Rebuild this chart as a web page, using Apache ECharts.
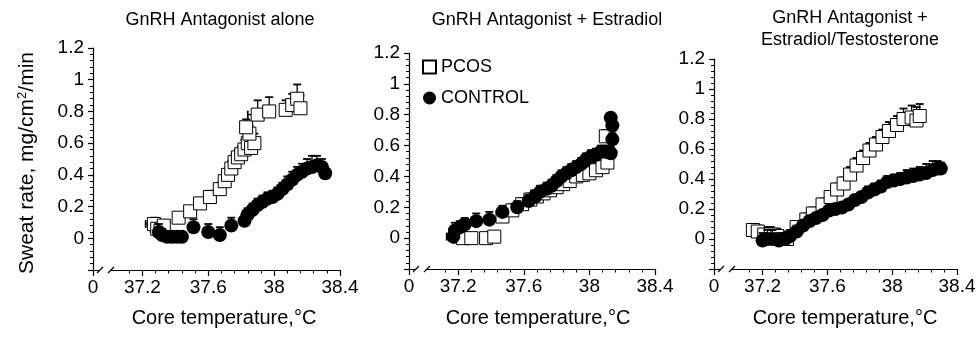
<!DOCTYPE html>
<html><head><meta charset="utf-8">
<script src="https://cdn.jsdelivr.net/npm/echarts@6/dist/echarts.min.js"></script>
<style>html,body{margin:0;padding:0;background:#fff}#c{width:979px;height:339px}</style>
</head><body><div id="c"></div>
<script>
// ---------- data ----------
const panelTitles = ['GnRH Antagonist alone', 'GnRH Antagonist + Estradiol', 'GnRH Antagonist +\nEstradiol/Testosterone'];
const seriesNames = ['PCOS', 'CONTROL'];
const xMajorTicks = [36.9, 37.2, 37.6, 38, 38.4];
const xTickLabels = ['0', '37.2', '37.6', '38', '38.4'];
const xMinorTicks = [37.12, 37.28, 37.36, 37.44, 37.52, 37.68, 37.76, 37.84, 37.92, 38.08, 38.16, 38.24, 38.32];
const xLabel = 'Core temperature,°C';
const yLabel = 'Sweat rate, mg/cm{sup|2}/min';
// [core temp, sweat rate, temp SE (left), rate SE (up)]
const alonePCOS = [
  [37.27,0.09,0.05,0.04],[37.29,0.06,0.04,0.03],[37.31,0.05,0.03,0.03],[37.33,0.08,0.03,0.03],
  [37.42,0.13,0.02,0.03],[37.49,0.17,0.03,0.03],[37.55,0.22,0.03,0.03],[37.61,0.26,0.03,0.04],
  [37.67,0.31,0.03,0.04],[37.70,0.36,0.02,0.04],[37.72,0.40,0.02,0.04],[37.74,0.44,0.02,0.05],
  [37.76,0.48,0.03,0.05],[37.78,0.51,0.03,0.05],[37.80,0.53,0.03,0.05],[37.82,0.56,0.03,0.06],
  [37.84,0.60,0.03,0.06],[37.86,0.57,0.02,0.06],[37.88,0.60,0.03,0.06],[37.85,0.66,0.03,0.05],
  [37.83,0.70,0.02,0.05],[37.90,0.78,0.06,0.09],[37.97,0.80,0.02,0.09],[38.07,0.81,0.02,0.06],
  [38.11,0.84,0.03,0.07],[38.14,0.88,0.02,0.09],[38.16,0.82,0.02,0.08]
];
const aloneCTRL = [
  [37.30,0.04,0.03,0.05],[37.32,0.02,0.02,0.04],[37.35,0.01,0.02,0.03],[37.38,0.01,0.02,0.03],
  [37.41,0.01,0.02,0.03],[37.44,0.01,0.02,0.03],[37.51,0.07,0.02,0.05],[37.60,0.04,0.02,0.05],
  [37.67,0.02,0.03,0.05],[37.74,0.08,0.03,0.05],[37.82,0.11,0.02,0.04],[37.84,0.15,0.03,0.04],
  [37.87,0.18,0.03,0.04],[37.90,0.21,0.03,0.04],[37.93,0.23,0.03,0.04],[37.96,0.25,0.03,0.04],
  [37.99,0.26,0.03,0.04],[38.02,0.28,0.03,0.04],[38.05,0.31,0.03,0.04],[38.08,0.34,0.03,0.05],
  [38.11,0.37,0.03,0.05],[38.14,0.40,0.03,0.05],[38.17,0.42,0.03,0.05],[38.20,0.44,0.03,0.06],
  [38.23,0.45,0.03,0.07],[38.26,0.46,0.02,0.06],[38.29,0.45,0.02,0.05],[38.31,0.41,0.02,0.04]
];
const estPCOS = [
  [37.20,0.01,0.02,0.03],[37.23,0.00,0.02,0.03],[37.28,0.00,0.02,0.03],[37.37,0.00,0.02,0.03],
  [37.42,0.01,0.02,0.03],[37.47,0.14,0.02,0.04],[37.53,0.18,0.02,0.04],[37.59,0.22,0.03,0.04],
  [37.64,0.25,0.03,0.04],[37.68,0.27,0.03,0.04],[37.72,0.29,0.03,0.05],[37.76,0.31,0.03,0.05],
  [37.80,0.33,0.03,0.05],[37.84,0.35,0.03,0.05],[37.88,0.37,0.03,0.05],[37.92,0.40,0.03,0.05],
  [37.96,0.41,0.03,0.05],[38.00,0.42,0.03,0.05],[38.04,0.44,0.03,0.05],[38.08,0.46,0.03,0.05],
  [38.11,0.49,0.03,0.05],[38.10,0.66,0.03,0.04]
];
const estCTRL = [
  [37.17,0.01,0.04,0.03],[37.18,0.05,0.02,0.05],[37.21,0.07,0.02,0.04],[37.24,0.09,0.02,0.04],
  [37.31,0.11,0.02,0.05],[37.39,0.12,0.02,0.05],[37.47,0.17,0.02,0.04],[37.56,0.20,0.02,0.04],
  [37.63,0.24,0.02,0.04],[37.67,0.27,0.02,0.04],[37.70,0.30,0.02,0.04],[37.74,0.32,0.02,0.04],
  [37.77,0.34,0.02,0.04],[37.80,0.37,0.02,0.04],[37.83,0.40,0.02,0.04],[37.86,0.42,0.02,0.04],
  [37.89,0.44,0.02,0.04],[37.92,0.46,0.02,0.04],[37.95,0.48,0.02,0.04],[37.98,0.51,0.02,0.04],
  [38.01,0.53,0.02,0.04],[38.04,0.54,0.02,0.04],[38.07,0.56,0.02,0.04],[38.10,0.56,0.02,0.04],
  [38.13,0.55,0.02,0.04],[38.14,0.64,0.02,0.04],[38.14,0.73,0.02,0.04],[38.13,0.78,0.02,0.03]
];
const estTestPCOS = [
  [37.14,0.06,0.02,0.04],[37.17,0.05,0.02,0.04],[37.21,0.03,0.02,0.05],[37.25,0.03,0.02,0.05],
  [37.29,0.02,0.02,0.05],[37.35,0.00,0.02,0.05],[37.41,0.08,0.02,0.04],[37.47,0.13,0.02,0.04],
  [37.51,0.17,0.02,0.04],[37.57,0.23,0.02,0.04],[37.62,0.28,0.03,0.04],[37.66,0.33,0.03,0.04],
  [37.70,0.37,0.03,0.04],[37.74,0.43,0.03,0.05],[37.78,0.49,0.03,0.05],[37.82,0.54,0.03,0.05],
  [37.86,0.59,0.03,0.05],[37.90,0.63,0.03,0.05],[37.94,0.68,0.03,0.05],[37.98,0.72,0.03,0.06],
  [38.03,0.76,0.03,0.06],[38.07,0.80,0.03,0.07],[38.12,0.81,0.03,0.08],[38.15,0.79,0.03,0.09],
  [38.17,0.82,0.03,0.08]
];
const estTestCTRL = [
  [37.20,-0.01,0.02,0.05],[37.23,0.00,0.02,0.06],[37.26,0.00,0.02,0.06],[37.30,-0.01,0.02,0.05],
  [37.34,0.00,0.02,0.04],[37.37,0.02,0.02,0.04],[37.41,0.05,0.02,0.04],[37.45,0.09,0.02,0.03],
  [37.49,0.12,0.02,0.03],[37.53,0.14,0.02,0.03],[37.57,0.16,0.02,0.03],[37.61,0.19,0.02,0.03],
  [37.65,0.20,0.02,0.03],[37.69,0.21,0.02,0.03],[37.73,0.23,0.02,0.03],[37.77,0.26,0.02,0.03],
  [37.81,0.28,0.02,0.03],[37.85,0.31,0.02,0.04],[37.89,0.33,0.02,0.04],[37.93,0.35,0.02,0.04],
  [37.97,0.38,0.02,0.04],[38.01,0.39,0.02,0.04],[38.05,0.40,0.02,0.04],[38.09,0.41,0.02,0.05],
  [38.13,0.42,0.02,0.05],[38.17,0.43,0.02,0.05],[38.21,0.44,0.02,0.06],[38.25,0.46,0.02,0.06],
  [38.28,0.47,0.02,0.05],[38.30,0.47,0.02,0.04]
];
const panelData = [[alonePCOS, aloneCTRL], [estPCOS, estCTRL], [estTestPCOS, estTestCTRL]];

// ---------- layout ----------
const FONT = 'Liberation Sans, Arial, Helvetica, sans-serif';
const grids = [
  {left: 93, top: 48, width: 247, height: 222},
  {left: 409, top: 53, width: 246, height: 216},
  {left: 714, top: 59, width: 243, height: 210}
];
const titleX = [220, 547, 850];
const xNameX = [224, 538, 845];

const chart = echarts.init(document.getElementById('c'), null, {renderer: 'canvas'});

function errRender(params, api) {
  const x = api.value(0), y = api.value(1), ex = api.value(2), ey = api.value(3);
  const c = api.coord([x, y]), t = api.coord([x, y + ey]), l = api.coord([x - ex, y]);
  const cap = 4, st = {stroke: '#000', lineWidth: 1.3};
  return {type: 'group', children: [
    {type: 'line', shape: {x1: c[0], y1: c[1], x2: t[0], y2: t[1]}, style: st},
    {type: 'line', shape: {x1: t[0] - cap, y1: t[1], x2: t[0] + cap, y2: t[1]}, style: {stroke: '#000', lineWidth: 1.8}},
    {type: 'line', shape: {x1: c[0], y1: c[1], x2: l[0], y2: l[1]}, style: st},
    {type: 'line', shape: {x1: l[0], y1: l[1] - cap, x2: l[0], y2: l[1] + cap}, style: {stroke: '#000', lineWidth: 1.8}}
  ]};
}

const xAxes = [], yAxes = [], series = [];
grids.forEach((g, i) => {
  xAxes.push({
    gridIndex: i, type: 'value', min: 36.9, max: 38.4, position: 'bottom',
    axisLine: {show: true, onZero: false, lineStyle: {color: '#000', width: 1.2}},
    axisTick: {show: true, length: 6, customValues: xMajorTicks, lineStyle: {color: '#000', width: 1.2}},
    axisLabel: {show: true, customValues: xMajorTicks, margin: 8, fontFamily: FONT, fontSize: 19, color: '#000',
      formatter: v => xTickLabels[xMajorTicks.findIndex(m => Math.abs(m - v) < 1e-6)] || ''},
    splitLine: {show: false}
  });
  yAxes.push({
    gridIndex: i, type: 'value', min: -0.2, max: 1.2, interval: 0.2,
    axisLine: {show: true, onZero: false, lineStyle: {color: '#000', width: 1.2}},
    axisTick: {show: true, length: 5, lineStyle: {color: '#000', width: 1.2}},
    minorTick: {show: true, splitNumber: 5, length: 3, lineStyle: {color: '#000', width: 1}},
    axisLabel: {margin: 9, fontFamily: FONT, fontSize: 19, color: '#000',
      formatter: v => (v < -0.1 ? '' : String(+v.toFixed(1)))},
    splitLine: {show: false}
  });
});
// minor x ticks
grids.forEach((g, i) => {
  xAxes.push({
    gridIndex: i, type: 'value', min: 36.9, max: 38.4, position: 'bottom',
    axisLine: {show: false, onZero: false}, axisLabel: {show: false}, splitLine: {show: false},
    axisTick: {show: true, length: 3.5, customValues: xMinorTicks, lineStyle: {color: '#000', width: 1}}
  });
});

panelData.forEach((pair, i) => {
  pair.forEach((data, k) => {
    series.push({
      type: 'custom', name: seriesNames[k] + ' SE', xAxisIndex: i, yAxisIndex: i,
      renderItem: errRender, data: data, encode: {x: 0, y: 1}, clip: false, silent: true, z: 2 + k * 2
    });
    series.push({
      type: 'scatter', name: seriesNames[k], xAxisIndex: i, yAxisIndex: i,
      data: data.map(d => [d[0], d[1]]),
      symbol: k === 0 ? 'rect' : 'circle', symbolSize: k === 0 ? 13 : 14,
      itemStyle: k === 0 ? {color: '#fff', borderColor: '#000', borderWidth: 1, opacity: 1}
                         : {color: '#000', borderColor: '#000', borderWidth: 0, opacity: 1},
      clip: false, z: 3 + k * 2, animation: false
    });
  });
});

const graphics = [];
panelTitles.forEach((t, i) => {
  const lines = t.split('\n');
  lines.forEach((ln, j) => {
    graphics.push({type: 'text', x: titleX[i], y: (lines.length > 1 ? 18 : 20) + j * 22,
      style: {text: ln, fontFamily: FONT, fontSize: 18, fill: '#000', align: 'center', verticalAlign: 'middle'}});
  });
  graphics.push({type: 'text', x: xNameX[i], y: 318,
    style: {text: xLabel, fontFamily: FONT, fontSize: 20, fill: '#000', align: 'center', verticalAlign: 'middle'}});
});
graphics.push({type: 'text', x: 27, y: 163, rotation: Math.PI / 2,
  style: {text: yLabel, fontFamily: FONT, fontSize: 21, fill: '#000', align: 'center', verticalAlign: 'middle',
    rich: {sup: {fontFamily: FONT, fontSize: 13, fill: '#000', padding: [0, 0, 9, 0]}}}});
// axis break marks
grids.forEach((g, i) => {
  const y = g.top + g.height, x0 = g.left;
  graphics.push({type: 'rect', shape: {x: x0 + 7, y: y - 2, width: 11, height: 4}, style: {fill: '#fff'}, z: 100});
  graphics.push({type: 'line', shape: {x1: x0 + 4, y1: y + 3, x2: x0 + 10, y2: y - 3}, style: {stroke: '#000', lineWidth: 1.3}, z: 101});
  graphics.push({type: 'line', shape: {x1: x0 + 15, y1: y + 3, x2: x0 + 21, y2: y - 3}, style: {stroke: '#000', lineWidth: 1.3}, z: 101});
});

chart.setOption({
  animation: false,
  backgroundColor: '#fff',
  grid: grids.map(g => Object.assign({containLabel: false}, g)),
  xAxis: xAxes, yAxis: yAxes, series: series,
  legend: {
    data: [{name: 'PCOS', icon: 'rect'}, {name: 'CONTROL', icon: 'circle'}],
    orient: 'vertical', left: 422, top: 58, padding: 0, itemWidth: 13, itemHeight: 13, itemGap: 13,
    selectedMode: false,
    textStyle: {fontFamily: FONT, fontSize: 18, color: '#000', padding: [0, 0, 0, 0]}
  },
  graphic: graphics
});
</script></body></html>
